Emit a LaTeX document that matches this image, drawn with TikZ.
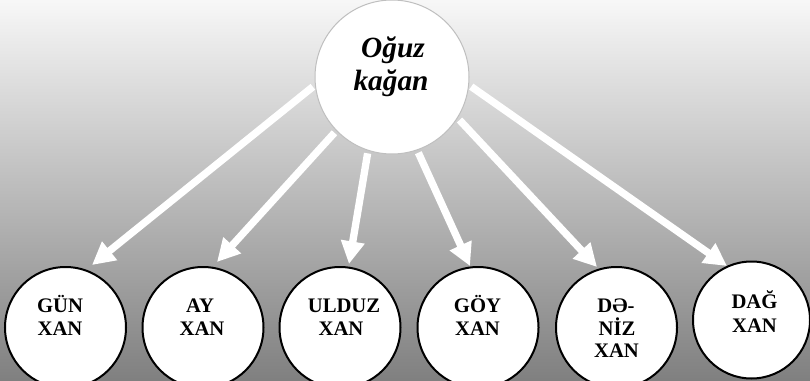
\documentclass[tikz,border=0pt]{standalone}
\usepackage{fontspec}
\setmainfont{Liberation Serif}
\usetikzlibrary{arrows.meta}
\begin{document}
\begin{tikzpicture}[x=0.75pt,y=-0.75pt,
  kid/.style={circle,draw=black,line width=1.5pt,fill=white,minimum size=90.75pt,inner sep=0pt},
  boss/.style={circle,draw=black!25,line width=0.75pt,fill=white,minimum size=115.5pt,inner sep=0pt},
  kidtext/.style={font=\bfseries\fontsize{15.5}{17}\selectfont,anchor=base,inner sep=0pt},
  bosstext/.style={font=\bfseries\itshape\fontsize{22}{25}\selectfont,anchor=base,inner sep=0pt},
  arr/.style={draw=white,line width=5.5pt,-{Triangle[width=17pt,length=17pt]},shorten <=2pt}]
\useasboundingbox (0,0) rectangle (810,381);
\clip (0,0) rectangle (810,381);
\shade[top color=white!97!black,bottom color=black!50] (0,0) rectangle (810,381);
% top node
\node[boss] (top) at (392,77) {};
\node[bosstext] (t1) at (393,58) {Oğuz};
\node[bosstext] (t2) at (391,91) {kağan};
% children
\node[kid] (gun) at (65.5,327.5) {};
\node[kid] (ay) at (203,327.5) {};
\node[kid] (ulduz) at (340,327.5) {};
\node[kid] (goy) at (478,327.5) {};
\node[kid] (deniz) at (616.5,327.5) {};
\node[kid,minimum size=87.75pt] (dag) at (751.5,320) {};
% texts
\node[kidtext] (gun1) at (60,312) {GÜN};
\node[kidtext] (gun2) at (60,335) {XAN};
\node[kidtext] (ay1) at (200,312) {AY};
\node[kidtext] (ay2) at (202,335) {XAN};
\node[kidtext] (ul1) at (344,312) {ULDUZ};
\node[kidtext] (ul2) at (341,335) {XAN};
\node[kidtext] (go1) at (477.5,312) {GÖY};
\node[kidtext] (go2) at (477.5,335) {XAN};
\node[kidtext] (de1) at (616,312) {DƏ-};
\node[kidtext] (de2) at (617,335) {NİZ};
\node[kidtext] (de3) at (616.5,357) {XAN};
\node[kidtext] (da1) at (754.5,308) {DAĞ};
\node[kidtext] (da2) at (754.5,332) {XAN};
% arrow tips
\coordinate (tg) at (92,265);
\coordinate (ta) at (217,262);
\coordinate (tu) at (349,264);
\coordinate (ty) at (470,266);
\coordinate (td) at (597,267);
\coordinate (th) at (727,266);
\draw[arr] (top.186) -- (tg);
\draw[arr] (top.224) -- (ta);
\draw[arr] (top.252) -- (tu);
\draw[arr] (top.289) -- (ty);
\draw[arr] (top.328) -- (td);
\draw[arr] (top.354) -- (th);
\end{tikzpicture}
\end{document}
